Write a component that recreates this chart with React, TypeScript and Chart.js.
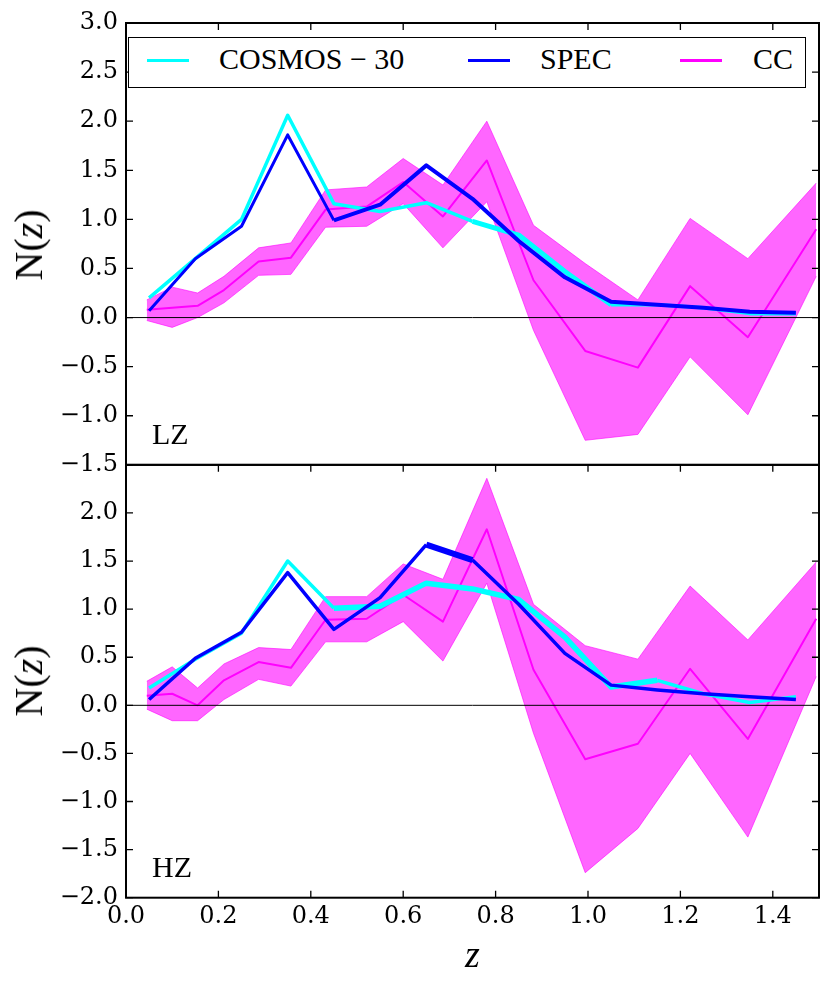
import { useEffect, useRef } from "react";
import { Chart, registerables } from "chart.js";

Chart.register(...registerables);

// redshift bins
const zSpec = [0.05, 0.15, 0.25, 0.35, 0.45, 0.55, 0.65, 0.75, 0.85, 0.95, 1.05, 1.15, 1.25, 1.35, 1.45];
const zCC = [0.045, 0.1, 0.155, 0.212, 0.287, 0.357, 0.432, 0.521, 0.6, 0.686, 0.781, 0.882, 0.994, 1.108, 1.221, 1.346, 1.494];

// LZ panel
const lzCosmos = [0.2, 0.6, 1.0, 2.06, 1.16, 1.08, 1.17, 0.98, 0.84, 0.47, 0.13, 0.13, 0.1, 0.04, 0.04];
const lzSpec = [0.07, 0.6, 0.93, 1.86, 0.99, 1.15, 1.55, 1.21, 0.78, 0.41, 0.16, 0.13, 0.1, 0.06, 0.05];
const lzCC = [0.08, 0.1, 0.12, 0.28, 0.57, 0.61, 1.1, 1.13, 1.38, 1.03, 1.6, 0.38, -0.34, -0.51, 0.32, -0.2, 0.9];
const lzCCHi = [0.18, 0.31, 0.25, 0.42, 0.71, 0.76, 1.3, 1.33, 1.62, 1.35, 2.0, 0.94, 0.55, 0.18, 1.01, 0.6, 1.37];
const lzCCLo = [-0.03, -0.1, 0.0, 0.15, 0.43, 0.44, 0.92, 0.93, 1.16, 0.71, 1.18, -0.13, -1.25, -1.19, -0.4, -0.99, 0.42];

// HZ panel
const hzCosmos = [0.18, 0.48, 0.75, 1.5, 1.01, 1.03, 1.27, 1.21, 1.1, 0.71, 0.19, 0.26, 0.12, 0.03, 0.09];
const hzSpec = [0.06, 0.49, 0.76, 1.38, 0.79, 1.12, 1.67, 1.51, 1.05, 0.54, 0.21, 0.16, 0.12, 0.09, 0.06];
const hzCC = [0.1, 0.12, 0.0, 0.26, 0.45, 0.39, 0.89, 0.9, 1.15, 0.87, 1.83, 0.37, -0.56, -0.4, 0.38, -0.35, 0.9];
const hzCCHi = [0.25, 0.4, 0.18, 0.43, 0.6, 0.58, 1.13, 1.13, 1.47, 1.31, 2.36, 1.05, 0.62, 0.48, 1.24, 0.68, 1.49];
const hzCCLo = [-0.04, -0.16, -0.16, 0.06, 0.27, 0.2, 0.66, 0.66, 0.87, 0.46, 1.27, -0.29, -1.74, -1.28, -0.5, -1.37, 0.3];

const xTicks = [0, 0.2, 0.4, 0.6, 0.8, 1.0, 1.2, 1.4];

const CYAN = "#00ffff";
const BLUE = "#0000ff";
const MAGENTA = "#ff00ff";
const BAND = "rgba(255, 0, 255, 0.6)";

type Pt = { x: number; y: number };

const pts = (xs: number[], ys: number[]): Pt[] => xs.map((x, i) => ({ x, y: ys[i] }));

const fmt = (v: number) => {
  const r = Math.round(v * 10) / 10;
  return (r < 0 ? "\u2212" : "") + Math.abs(r).toFixed(1);
};

// several overlapping realisations make some stretches look heavier
const heavier = (from: number, to: number, thick: number, thin: number) => (ctx: any) =>
  ctx.p0.parsed.x >= from - 1e-6 && ctx.p1.parsed.x <= to + 1e-6 ? thick : thin;

const line = (data: Pt[], color: string, width: number, yAxisID: string, seg?: (ctx: any) => number) => ({
  data,
  yAxisID,
  borderColor: color,
  borderWidth: width,
  pointRadius: 0,
  tension: 0,
  fill: false,
  borderJoinStyle: "round" as const,
  segment: seg ? { borderWidth: seg } : undefined,
});

const band = (data: Pt[], yAxisID: string, fill: string | boolean) => ({
  data,
  yAxisID,
  borderColor: BAND,
  borderWidth: 1,
  backgroundColor: BAND,
  pointRadius: 0,
  tension: 0,
  fill,
});

// inward ticks, frames and zero lines, like the matplotlib panels
const framePlugin = {
  id: "frame",
  afterDatasetsDraw(chart: Chart) {
    const ctx = chart.ctx;
    const x = chart.scales.x;
    ["yT", "yB"].forEach((id) => {
      const y = chart.scales[id];
      const L = x.left;
      const R = x.right;
      const T = y.top;
      const B = y.bottom;
      ctx.save();
      ctx.strokeStyle = "#000";
      ctx.lineWidth = 1;
      const y0 = y.getPixelForValue(0);
      ctx.beginPath();
      ctx.moveTo(L, y0);
      ctx.lineTo(R, y0);
      ctx.stroke();

      ctx.lineWidth = 1.3;
      ctx.beginPath();
      xTicks.forEach((v) => {
        const px = x.getPixelForValue(v);
        ctx.moveTo(px, T);
        ctx.lineTo(px, T + 7);
        if (id === "yB") {
          ctx.moveTo(px, B);
          ctx.lineTo(px, B - 7);
        }
      });
      y.ticks.forEach((t) => {
        const py = y.getPixelForValue(t.value);
        ctx.moveTo(L, py);
        ctx.lineTo(L + 7, py);
        ctx.moveTo(R, py);
        ctx.lineTo(R - 7, py);
      });
      ctx.stroke();

      ctx.lineWidth = 2;
      ctx.strokeRect(L, T, R - L, B - T);
      ctx.restore();
    });
  },
};

const tickFont = { family: "'DejaVu Serif', serif", size: 24 };

export default function App() {
  const chartRef = useRef<HTMLCanvasElement>(null);

  useEffect(() => {
    if (!chartRef.current) return;

    const chart = new Chart(chartRef.current, {
      type: "line",
      data: {
        datasets: [
          line(pts(zSpec, hzSpec), BLUE, 3.5, "yB", heavier(0.65, 0.75, 6, 3.5)),
          line(pts(zSpec, lzSpec), BLUE, 3, "yT", heavier(0.45, 1.45, 4, 3)),
          line(pts(zSpec, hzCosmos), CYAN, 3.5, "yB", heavier(0.45, 1.15, 5.5, 3.5)),
          line(pts(zSpec, lzCosmos), CYAN, 3.5, "yT", heavier(0.75, 1.05, 5, 3.5)),
          line(pts(zCC, hzCC), MAGENTA, 2, "yB"),
          line(pts(zCC, lzCC), MAGENTA, 2, "yT"),
          band(pts(zCC, lzCCHi), "yT", "+1"),
          band(pts(zCC, lzCCLo), "yT", false),
          band(pts(zCC, hzCCHi), "yB", "+1"),
          band(pts(zCC, hzCCLo), "yB", false),
        ],
      },
      options: {
        responsive: false,
        animation: false,
        layout: { padding: { top: 23, right: 11, left: 0, bottom: 0 } },
        plugins: {
          legend: { display: false },
          tooltip: { enabled: false },
        },
        scales: {
          x: {
            type: "linear",
            position: "bottom",
            min: 0,
            max: 1.5,
            grid: { display: false, drawTicks: false },
            border: { display: false },
            ticks: {
              stepSize: 0.2,
              includeBounds: false,
              autoSkip: false,
              maxRotation: 0,
              padding: 5,
              color: "#000",
              font: tickFont,
              callback: (v) => fmt(Number(v)),
            },
            title: {
              display: true,
              text: "z",
              color: "#000",
              font: { family: "'Liberation Serif', serif", size: 38, style: "italic" },
              padding: { top: 0, bottom: 15 },
            },
            afterFit: (s) => {
              s.height = 97.3;
            },
          },
          yB: {
            type: "linear",
            position: "left",
            stack: "panels",
            stackWeight: 433,
            min: -2,
            max: 2.5,
            grid: { display: false, drawTicks: false },
            border: { display: false },
            ticks: {
              stepSize: 0.5,
              autoSkip: false,
              padding: 8,
              color: "#000",
              font: tickFont,
              callback: (v) => (Number(v) > 2.2 ? "" : fmt(Number(v))),
            },
            afterFit: (s) => {
              s.width = 126;
            },
          },
          yT: {
            type: "linear",
            position: "left",
            stack: "panels",
            stackWeight: 442,
            min: -1.5,
            max: 3,
            grid: { display: false, drawTicks: false },
            border: { display: false },
            ticks: {
              stepSize: 0.5,
              autoSkip: false,
              padding: 8,
              color: "#000",
              font: tickFont,
              callback: (v) => fmt(Number(v)),
            },
            afterFit: (s) => {
              s.width = 126;
            },
          },
        },
      },
      plugins: [framePlugin],
    });

    return () => {
      chart.destroy();
    };
  }, []);

  const serif = "'Liberation Serif', 'Times New Roman', serif";
  const label = (left: number, top: number, text: string) => (
    <div style={{ position: "absolute", left, top, fontFamily: serif, fontSize: 30, lineHeight: "30px", color: "#000", whiteSpace: "nowrap" }}>
      {text}
    </div>
  );
  const swatch = (left: number, color: string, h: number) => (
    <div style={{ position: "absolute", left, top: 60 - h / 2, width: 42, height: h, background: color }} />
  );
  const yLabel = (cy: number) => (
    <div
      style={{
        position: "absolute",
        left: 29,
        top: cy,
        transform: "translate(-50%, -50%) rotate(-90deg)",
        fontFamily: serif,
        fontSize: 40,
        lineHeight: "40px",
        color: "#000",
        whiteSpace: "nowrap",
      }}
    >
      N(<span style={{ fontStyle: "italic" }}>z</span>)
    </div>
  );

  return (
    <div style={{ position: "relative", width: 830, height: 995, background: "#fff" }}>
      <style>{"body{margin:0}"}</style>
      <canvas ref={chartRef} width={830} height={995} style={{ display: "block" }}></canvas>
      <div
        style={{
          position: "absolute",
          left: 128,
          top: 37,
          width: 678,
          height: 51,
          border: "1.5px solid #000",
          boxSizing: "border-box",
          background: "#fff",
        }}
      />
      {swatch(147, CYAN, 3)}
      {label(219, 44, "COSMOS \u2212 30")}
      {swatch(468, BLUE, 3)}
      {label(540, 44, "SPEC")}
      {swatch(680, MAGENTA, 3)}
      {label(753, 44, "CC")}
      {label(152, 419, "LZ")}
      {label(152, 852, "HZ")}
      {yLabel(245)}
      {yLabel(681)}
    </div>
  );
}
